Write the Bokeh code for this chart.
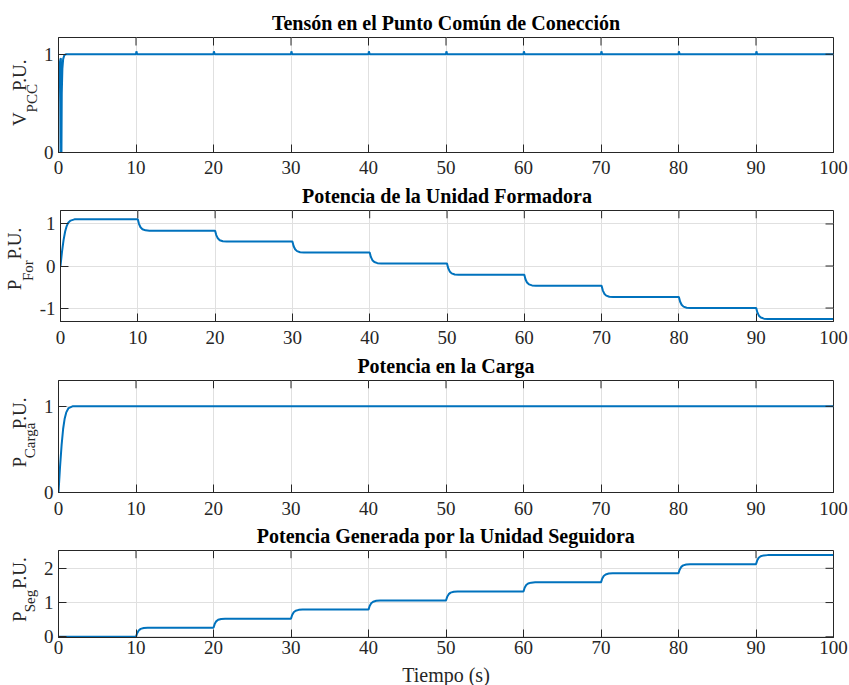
import math
from bokeh.plotting import figure
from bokeh.models import Label, FixedTicker, Range1d
from bokeh.layouts import column, row
from bokeh.embed import file_html
from bokeh.resources import INLINE

# ---------------- data ----------------
x_ticks = [0, 10, 20, 30, 40, 50, 60, 70, 80, 90, 100]

titles = ["Tensón en el Punto Común de Conección",
          "Potencia de la Unidad Formadora",
          "Potencia en la Carga",
          "Potencia Generada por la Unidad Seguidora"]
x_label = "Tiempo (s)"

t_vpcc = [0, 0.03, 0.08, 0.15, 0.25, 0.31, 0.33, 0.38, 0.42, 0.5, 0.6, 0.75, 1.0,
          10, 10.05, 10.15, 20, 20.05, 20.15, 30, 30.05, 30.15, 40, 40.05, 40.15,
          50, 50.05, 50.15, 60, 60.05, 60.15, 70, 70.05, 70.15, 80, 80.05, 80.15,
          90, 90.05, 90.15, 100]
v_vpcc = [0, 0.5, 0.8, 0.9, 0.95, 0.96, 0, 0, 0.6, 0.85, 0.95, 0.99, 1.0,
          1.0, 1.03, 1.0, 1.0, 1.03, 1.0, 1.0, 1.03, 1.0, 1.0, 1.03, 1.0,
          1.0, 1.03, 1.0, 1.0, 1.03, 1.0, 1.0, 1.03, 1.0, 1.0, 1.03, 1.0,
          1.0, 1.03, 1.0, 1.0]

t_pfor = [0, 0.2, 0.4, 0.6, 0.8, 1.0, 1.3, 1.8,
          10, 10.15, 10.35, 10.6, 11.0, 11.5,
          20, 20.15, 20.35, 20.6, 21.0, 21.5,
          30, 30.15, 30.35, 30.6, 31.0, 31.5,
          40, 40.15, 40.35, 40.6, 41.0, 41.5,
          50, 50.15, 50.35, 50.6, 51.0, 51.5,
          60, 60.15, 60.35, 60.6, 61.0, 61.5,
          70, 70.15, 70.35, 70.6, 71.0, 71.5,
          80, 80.15, 80.35, 80.6, 81.0, 81.5,
          90, 90.15, 90.35, 90.6, 91.0, 91.5,
          100]
v_pfor = [0, 0.35, 0.62, 0.82, 0.95, 1.03, 1.08, 1.11,
          1.11, 1.002, 0.921, 0.875, 0.848, 0.84,
          0.84, 0.736, 0.658, 0.614, 0.588, 0.58,
          0.58, 0.476, 0.398, 0.354, 0.328, 0.32,
          0.32, 0.216, 0.138, 0.094, 0.068, 0.06,
          0.06, -0.048, -0.129, -0.175, -0.202, -0.21,
          -0.21, -0.314, -0.392, -0.436, -0.462, -0.47,
          -0.47, -0.578, -0.659, -0.705, -0.732, -0.74,
          -0.74, -0.844, -0.922, -0.966, -0.992, -1.00,
          -1.00, -1.104, -1.182, -1.226, -1.252, -1.26,
          -1.26]

t_pcarga = [0, 0.2, 0.4, 0.6, 0.8, 1.0, 1.3, 1.8, 100]
v_pcarga = [0, 0.3, 0.55, 0.74, 0.86, 0.93, 0.98, 1.0, 1.0]

t_pseg = [0,
          10, 10.15, 10.35, 10.6, 11.0, 11.5,
          20, 20.15, 20.35, 20.6, 21.0, 21.5,
          30, 30.15, 30.35, 30.6, 31.0, 31.5,
          40, 40.15, 40.35, 40.6, 41.0, 41.5,
          50, 50.15, 50.35, 50.6, 51.0, 51.5,
          60, 60.15, 60.35, 60.6, 61.0, 61.5,
          70, 70.15, 70.35, 70.6, 71.0, 71.5,
          80, 80.15, 80.35, 80.6, 81.0, 81.5,
          90, 90.15, 90.35, 90.6, 91.0, 91.5,
          100]
v_pseg = [0,
          0, 0.106, 0.186, 0.231, 0.257, 0.265,
          0.265, 0.371, 0.451, 0.496, 0.522, 0.53,
          0.53, 0.636, 0.716, 0.761, 0.787, 0.795,
          0.795, 0.901, 0.981, 1.026, 1.052, 1.06,
          1.06, 1.166, 1.246, 1.291, 1.317, 1.325,
          1.325, 1.431, 1.511, 1.556, 1.582, 1.59,
          1.59, 1.696, 1.776, 1.821, 1.847, 1.855,
          1.855, 1.961, 2.041, 2.086, 2.112, 2.12,
          2.12, 2.226, 2.306, 2.351, 2.377, 2.385,
          2.385]

y_ticks_1 = [0, 1]
y_ticks_2 = [-1, 0, 1]
y_ticks_3 = [0, 1]
y_ticks_4 = [0, 1, 2]

# ---------------- styling ----------------
FONT = "Liberation Serif"
BLUE = "#0072BD"
AX = "#262626"
GRID = "#e0e0e0"
FRAME_LEFT = 58     # page x of every plot frame's left edge
FRAME_W = 775
TICK_PX = 8


def label_strip(width, page_top, h, pieces):
    s = figure(width=width, height=h, x_range=Range1d(0, width),
               y_range=Range1d(0, h),
               x_axis_location=None, y_axis_location=None,
               toolbar_location=None, output_backend="svg", min_border=0)
    s.outline_line_color = None
    s.grid.visible = False
    s.background_fill_color = "white"
    s.border_fill_color = "white"
    # pieces: (text, size, centre page x, bottom page y)
    for txt, size, cx, by in pieces:
        s.add_layout(Label(x=cx, y=page_top + h - by, text=txt, angle=math.pi / 2,
                           text_font=FONT, text_font_size=size, text_color=AX,
                           text_align="left", text_baseline="middle"))
    return s


def make_fig(title, t, v, yr, yticks, strip_w, h, top, bottom, xstandoff):
    y0, y1 = yr
    fh = h - top - bottom
    p = figure(width=849 - strip_w, height=h,
               x_range=Range1d(0, 100), y_range=Range1d(y0, y1),
               min_border_left=FRAME_LEFT - strip_w, min_border_right=16,
               min_border_top=top, min_border_bottom=bottom,
               output_backend="svg", toolbar_location=None, title=title)
    p.title.text_font = FONT
    p.title.text_font_style = "bold"
    p.title.text_font_size = "20px"
    p.title.text_color = "black"
    p.title.align = "center"
    p.title.standoff = 8
    p.background_fill_color = "white"
    p.border_fill_color = "white"
    p.outline_line_color = AX
    p.outline_line_width = 1

    p.xaxis.ticker = FixedTicker(ticks=x_ticks, minor_ticks=[])
    p.yaxis.ticker = FixedTicker(ticks=yticks, minor_ticks=[])
    p.yaxis.major_label_overrides = {k: str(k) for k in yticks}
    p.xgrid.ticker = FixedTicker(ticks=x_ticks, minor_ticks=[])
    p.ygrid.ticker = FixedTicker(ticks=yticks, minor_ticks=[])
    for g in (p.xgrid, p.ygrid):
        g.grid_line_color = GRID
        g.grid_line_width = 1

    for ax in list(p.xaxis) + list(p.yaxis):
        ax.axis_line_color = AX
        ax.major_tick_line_color = AX
        ax.major_tick_in = TICK_PX
        ax.major_tick_out = 0
        ax.minor_tick_in = 0
        ax.minor_tick_out = 0
        ax.major_label_text_font = FONT
        ax.major_label_text_font_size = "19px"
        ax.major_label_text_color = AX
    p.xaxis.major_label_standoff = xstandoff
    p.yaxis.major_label_standoff = 5

    p.line(t, v, line_color=BLUE, line_width=2)

    # inward tick marks on the top and right edges of the box (MATLAB style)
    dy = TICK_PX / fh * (y1 - y0)
    dx = TICK_PX / FRAME_W * 100
    p.segment(x0=x_ticks, y0=[y1] * len(x_ticks), x1=x_ticks,
              y1=[y1 - dy] * len(x_ticks), line_color=AX, line_width=1)
    p.segment(x0=[100] * len(yticks), y0=yticks, x1=[100 - dx] * len(yticks),
              y1=yticks, line_color=AX, line_width=1)
    return p


# page layout: row tops at 0, 178, 348, 518 ; heights 178, 170, 170, 145 ; x label strip 22
p1 = make_fig(titles[0], t_vpcc, v_vpcc, (0, 1.17), y_ticks_1, 40, 178, 37, 26, 8)
s1 = label_strip(40, 0, 178, [("V", "19px", 19, 137), ("PCC", "15px", 31.5, 116),
                              ("P.U.", "19px", 19, 83)])
p2 = make_fig(titles[1], t_pfor, v_pfor, (-1.32, 1.32), y_ticks_2, 36, 170, 29, 27, 9)
s2 = label_strip(36, 178, 170, [("P", "19px", 14, 300), ("For", "15px", 27, 286),
                                ("P.U.", "19px", 14, 253)])
p3 = make_fig(titles[2], t_pcarga, v_pcarga, (0, 1.3), y_ticks_3, 40, 170, 29, 26, 9)
s3 = label_strip(40, 348, 170, [("P", "19px", 19, 480), ("Carga", "15px", 29.5, 466),
                                ("P.U.", "19px", 19, 422)])
p4 = make_fig(titles[3], t_pseg, v_pseg, (-0.02, 2.52), y_ticks_4, 40, 145, 29, 26, 3)
s4 = label_strip(40, 518, 145, [("P", "19px", 19, 637), ("Seg", "15px", 29.5, 621),
                                ("P.U.", "19px", 19, 582)])

xs = figure(width=849, height=22, x_range=Range1d(0, 849), y_range=Range1d(0, 22),
            x_axis_location=None, y_axis_location=None, toolbar_location=None,
            output_backend="svg", min_border=0)
xs.outline_line_color = None
xs.grid.visible = False
xs.add_layout(Label(x=445.5, y=685 - 674, text=x_label, text_font=FONT,
                    text_font_size="20px", text_color=AX, text_align="center",
                    text_baseline="middle"))

layout = column(row(s1, p1, spacing=0), row(s2, p2, spacing=0),
                row(s3, p3, spacing=0), row(s4, p4, spacing=0), xs, spacing=0)
open("out.html", "w").write(file_html(layout, INLINE))
